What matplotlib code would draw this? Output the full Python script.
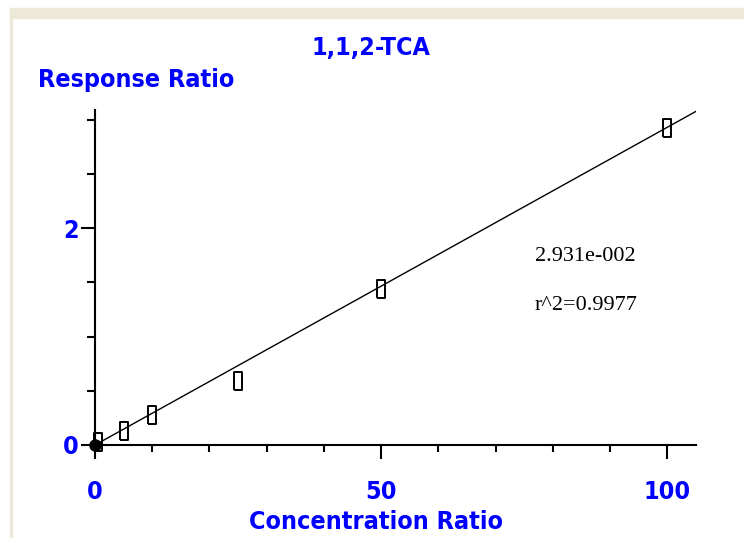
import numpy as np
import matplotlib
matplotlib.use('Agg')
import matplotlib.pyplot as plt
from matplotlib.patches import Rectangle
from matplotlib.ticker import MultipleLocator, FixedLocator, NullFormatter

# calibration levels and measured response ratios
conc = [0.5, 5, 10, 25, 50, 100]
resp = [0.03, 0.13, 0.28, 0.59, 1.44, 2.92]
origin = (0, 0)

slope = 2.931e-002
r2 = 0.9977
compound = '1,1,2-TCA'


def sci3(v):
    # mantissa with three-digit exponent, e.g. 2.931e-002
    m, e = ('%.3e' % v).split('e')
    return '%se%s%03d' % (m, e[0], abs(int(e)))


blue = '#0000ff'
lab_font = {'family': ['DejaVu Sans'], 'stretch': 'condensed', 'weight': 'bold',
            'size': 18, 'color': blue}

fig = plt.figure(figsize=(7.44, 5.38), dpi=100)
fig.patch.set_facecolor('white')

# window frame strips
fig.patches.append(Rectangle((10/744, 0), 2/744, 1 - 8/538, transform=fig.transFigure,
                             color='#ece9d8', zorder=0))
fig.patches.append(Rectangle((10/744, 1 - 18/538), 1 - 10/744, 10/538, transform=fig.transFigure,
                             color='#ece9d8', zorder=0))

ax = fig.add_axes([95/744, 93/538, (696 - 95)/744, (445 - 110)/538])
ax.set_xlim(0, 105)
ax.set_ylim(0, 3.09)

for s in ['top', 'right']:
    ax.spines[s].set_visible(False)
for s in ['left', 'bottom']:
    ax.spines[s].set_linewidth(1.5)

# fitted line through the origin
xf = np.array([0, 105])
ax.plot(xf, slope * xf, color='black', lw=1.0)

rect = [(-0.24, -0.5), (0.24, -0.5), (0.24, 0.5), (-0.24, 0.5), (-0.24, -0.5)]
ax.plot(conc, resp, linestyle='none', marker=rect, markersize=12.5,
        markerfacecolor='none', markeredgecolor='black', markeredgewidth=1.4, clip_on=False)
ax.plot([origin[0]], [origin[1]], linestyle='none', marker='o', markersize=8,
        color='black', clip_on=False, zorder=5)

ax.xaxis.set_major_locator(FixedLocator([0, 50, 100]))
ax.xaxis.set_minor_locator(MultipleLocator(10))
ax.yaxis.set_major_locator(FixedLocator([0, 2]))
ax.yaxis.set_minor_locator(MultipleLocator(0.5))
ax.yaxis.set_minor_formatter(NullFormatter())

ax.tick_params(axis='x', which='major', direction='out', length=10, width=1.5, pad=15)
ax.tick_params(axis='x', which='minor', direction='out', length=5, width=1.5)
ax.tick_params(axis='y', which='major', direction='out', length=10, width=1.5, pad=1.5)
ax.tick_params(axis='y', which='minor', direction='out', length=6, width=1.5)

ax.set_xticklabels(['0', '50', '100'], fontdict=lab_font)
ax.set_yticklabels(['0', '2'], fontdict=lab_font)

fig.text(371/744, 1 - 48/538, compound, ha='center', va='center', **lab_font)
fig.text(38/744, 1 - 80/538, 'Response Ratio', ha='left', va='center', **lab_font)
fig.text(376/744, 1 - 522/538, 'Concentration Ratio', ha='center', va='center', **lab_font)

txt_font = {'family': ['Liberation Serif', 'DejaVu Serif'], 'size': 16, 'color': 'black'}
fig.text(535/744, 1 - 257/538, sci3(slope), ha='left', va='center', **txt_font)
fig.text(535/744, 1 - 306/538, 'r^2=%.4f' % r2, ha='left', va='center', **txt_font)

fig.savefig('out.png', dpi=100, facecolor='white')
